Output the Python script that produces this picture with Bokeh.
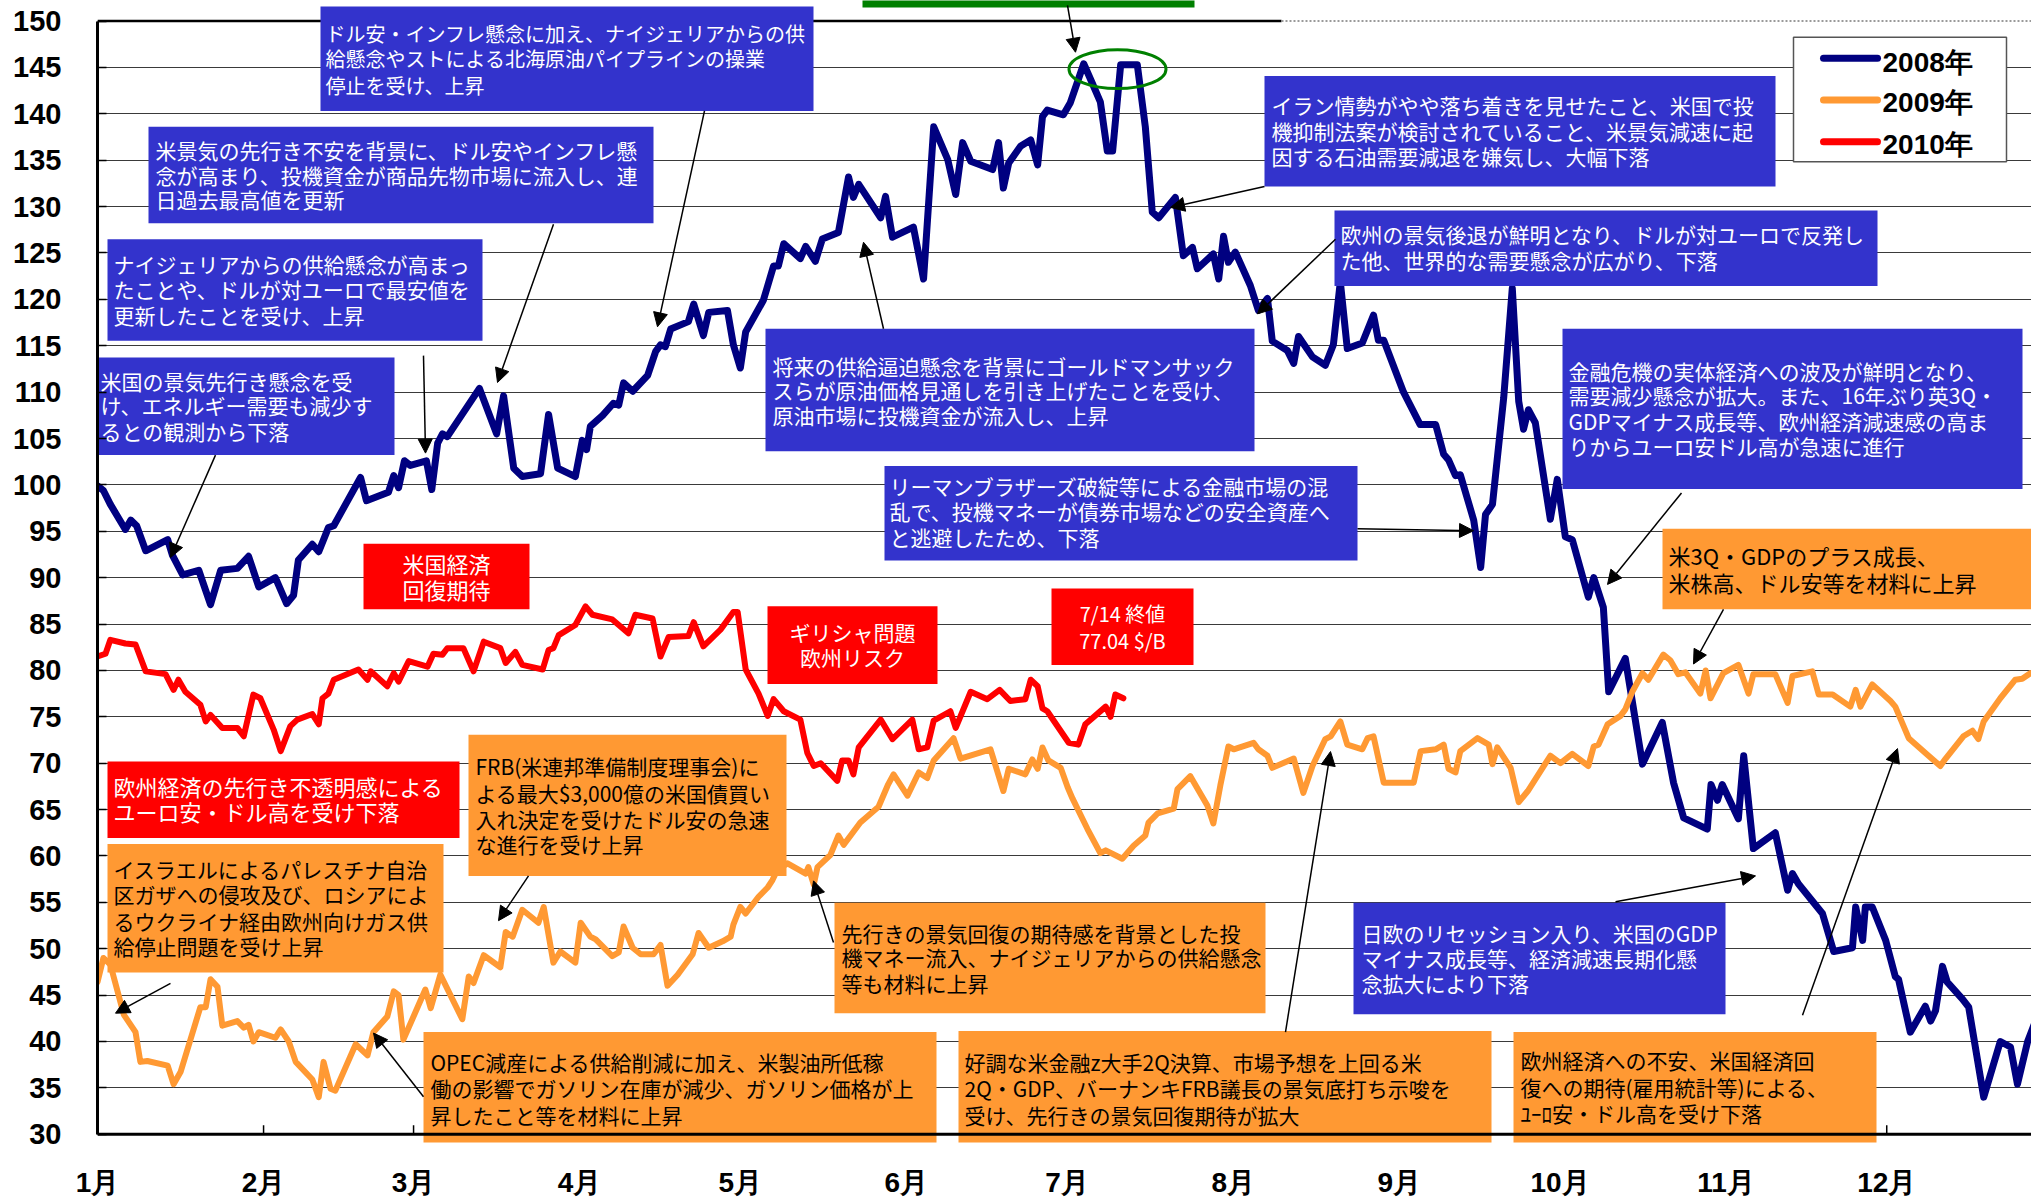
from bokeh.plotting import figure
from bokeh.models import Range1d, FixedTicker, Arrow, NormalHead, Span
from bokeh.embed import file_html
from bokeh.resources import INLINE
from bokeh.core.properties import value

# ---------------- data ----------------
month_labels = ["1月", "2月", "3月", "4月", "5月", "6月", "7月", "8月", "9月", "10月", "11月", "12月"]
month_starts = [0, 31, 59, 90, 120, 151, 181, 212, 243, 273, 304, 334]
y_ticks = [30, 35, 40, 45, 50, 55, 60, 65, 70, 75, 80, 85, 90, 95, 100, 105, 110, 115, 120,
           125, 130, 135, 140, 145, 150]

# (day of year, WTI $/B)
series_2008 = [
    (0, 99.9), (1.1, 99.4), (2.4, 97.9), (5.2, 95.2), (6.2, 96.2), (7.3, 95.6), (9.0, 92.9),
    (13.1, 94.1), (14.0, 92.4), (15.9, 90.3), (18.9, 90.8), (21.1, 87.1), (23.0, 90.8),
    (26.1, 91.0), (28.2, 92.3), (30.1, 89.0), (33.2, 90.0), (35.3, 87.2), (36.6, 88.1),
    (37.5, 91.9), (40.1, 93.6), (41.3, 92.8), (43.1, 95.4), (44.1, 95.6), (49.1, 100.8),
    (50.2, 98.3), (54.3, 99.2), (55.3, 101.0), (56.2, 99.7), (57.3, 102.6), (58.4, 102.1),
    (61.4, 102.6), (62.4, 99.5), (63.5, 104.5), (64.4, 105.5), (65.3, 105.2), (71.3, 110.4),
    (74.5, 105.5), (75.8, 109.6), (77.7, 101.8), (79.3, 100.9), (82.7, 101.2), (84.2, 107.6),
    (85.9, 101.8), (89.2, 100.9), (90.5, 104.8), (91.3, 103.8), (92.0, 106.3), (94.3, 107.5),
    (96.3, 108.8), (97.3, 108.6), (98.2, 111.0), (99.9, 110.1), (102.7, 111.8), (104.2, 114.4),
    (105.1, 115.1), (106.0, 114.9), (107.0, 116.8), (110.3, 117.6), (111.3, 119.5),
    (113.1, 116.1), (114.1, 118.6), (117.6, 118.8), (118.7, 115.1), (120.0, 112.6),
    (121.0, 116.5), (124.3, 119.9), (126.2, 123.6), (127.1, 123.6), (128.1, 126.0),
    (131.2, 124.4), (132.2, 125.7), (134.0, 124.1), (135.3, 126.5), (138.3, 127.2),
    (140.2, 133.2), (141.1, 131.0), (142.1, 132.4), (146.2, 128.8), (147.1, 131.1),
    (148.4, 126.7), (152.3, 127.8), (154.2, 122.2), (156.1, 138.6), (158.7, 135.1),
    (160.2, 131.3), (161.5, 136.9), (163.0, 134.9), (167.1, 134.0), (168.2, 136.9),
    (169.1, 132.0), (170.1, 134.7), (172.3, 136.5), (174.2, 137.2), (175.5, 134.5),
    (176.4, 139.7), (177.3, 140.4), (180.3, 139.9), (181.6, 141.2), (184.1, 145.4),
    (185.7, 143.3), (187.2, 141.3), (188.5, 136.0), (189.5, 136.0), (191.0, 145.3),
    (194.1, 145.3), (195.6, 138.6), (196.9, 129.4), (198.1, 128.8), (201.2, 131.0),
    (202.7, 124.7), (204.4, 125.6), (205.3, 123.3), (208.3, 124.9), (209.3, 122.2),
    (210.2, 126.8), (211.1, 124.0), (212.4, 125.1), (215.2, 121.5), (216.7, 118.8),
    (218.4, 120.1), (219.3, 115.5), (222.1, 114.5), (223.3, 113.1), (224.2, 116.0),
    (226.8, 113.8), (229.2, 112.9), (230.7, 115.1), (232.0, 121.9), (233.3, 114.7),
    (236.1, 115.3), (238.2, 118.3), (239.1, 115.6), (240.1, 115.6), (243.8, 110.0),
    (246.9, 106.5), (249.8, 106.5), (251.3, 103.3), (252.2, 102.7), (253.5, 101.0),
    (254.4, 101.1), (256.9, 96.2), (258.2, 91.1), (259.1, 96.8), (260.4, 97.9),
    (262.5, 109.4), (264.1, 121.2), (265.3, 109.0), (266.2, 106.0), (267.1, 108.1),
    (268.4, 106.7), (271.2, 96.3), (272.5, 100.6), (274.0, 94.4), (275.3, 94.1),
    (278.3, 87.9), (279.3, 90.0), (281.1, 86.8), (282.1, 77.7), (285.2, 81.3), (288.4, 69.9),
    (292.1, 74.4), (294.2, 67.9), (296.1, 64.1), (300.5, 62.9), (301.2, 67.7), (302.4, 66.0),
    (303.3, 67.7), (306.3, 64.0), (307.3, 70.8), (309.1, 60.8), (313.2, 62.5), (315.5, 56.3),
    (316.4, 58.1), (317.5, 57.0), (322.0, 53.8), (324.1, 49.7), (327.6, 50.1), (328.2, 54.5),
    (329.5, 50.9), (330.0, 54.5), (331.3, 54.5), (333.8, 50.9), (335.6, 47.0), (336.2, 46.7),
    (338.4, 41.0), (341.2, 43.8), (342.2, 42.2), (343.1, 43.3), (344.4, 48.1), (345.3, 46.4),
    (348.1, 44.6), (349.3, 43.7), (352.1, 34.0), (355.2, 40.0), (357.1, 39.4), (358.4, 35.4),
    (360.3, 40.0), (361.5, 41.8),
]

series_2009 = [
    (0, 46.4), (1.1, 49.0), (2.4, 48.3), (4.9, 42.9), (7.1, 41.0), (8.0, 37.8), (9.3, 37.9),
    (13.1, 37.4), (14.2, 35.4), (15.5, 36.7), (19.2, 43.7), (20.2, 43.7), (21.1, 46.7),
    (22.4, 45.9), (23.3, 41.7), (26.1, 42.2), (27.3, 41.5), (28.2, 41.8), (29.1, 40.0),
    (30.1, 41.0), (33.2, 40.4), (34.2, 41.3), (35.7, 40.0), (37.0, 37.8), (40.1, 35.9),
    (41.3, 34.0), (42.2, 37.8), (43.5, 34.9), (44.4, 34.7), (48.2, 39.7), (50.4, 38.5),
    (51.5, 41.0), (54.1, 42.7), (55.3, 45.4), (56.2, 45.0), (57.1, 40.2), (61.2, 45.6),
    (62.2, 43.6), (64.0, 47.2), (68.1, 42.4), (69.3, 47.0), (70.2, 46.3), (72.1, 49.3),
    (75.2, 48.0), (76.2, 51.8), (77.5, 51.3), (79.3, 54.2), (82.3, 52.8), (83.3, 54.5),
    (85.1, 48.5), (86.4, 49.7), (89.2, 48.5), (90.2, 52.8), (92.0, 51.3), (93.0, 51.0),
    (96.1, 49.2), (97.3, 49.6), (98.2, 52.4), (99.9, 50.1), (101.4, 49.4), (103.8, 49.4),
    (105.1, 50.4), (106.4, 46.0), (108.3, 47.2), (111.1, 49.4), (112.2, 51.7), (114.1, 50.1),
    (116.7, 50.8), (118.2, 51.3), (118.7, 52.6), (120.0, 54.5), (121.0, 53.8), (123.4, 55.6),
    (125.1, 56.6), (126.0, 57.4), (126.9, 58.5), (128.8, 59.2), (132.2, 58.1), (132.7, 58.8),
    (133.7, 56.9), (134.4, 58.8), (136.8, 60.1), (138.3, 62.2), (139.3, 61.2), (142.4, 63.6),
    (145.8, 65.3), (147.5, 67.6), (148.6, 68.8), (151.2, 66.5), (153.3, 69.0), (154.9, 68.4),
    (156.1, 70.3), (159.8, 72.7), (161.1, 70.5), (166.7, 71.5), (169.1, 67.0), (170.1, 69.4),
    (173.2, 68.8), (174.5, 70.4), (175.5, 69.4), (176.4, 71.7), (177.5, 70.3), (179.8, 69.5),
    (181.1, 67.4), (182.0, 66.2), (184.8, 62.9), (187.2, 60.3), (188.2, 60.6), (191.3, 59.7),
    (193.4, 61.1), (195.6, 62.2), (196.2, 63.6), (197.9, 64.6), (200.9, 65.1), (201.6, 67.2),
    (204.0, 68.6), (207.2, 65.4), (208.3, 63.5), (209.6, 67.6), (211.1, 71.8), (212.1, 71.5),
    (215.8, 72.2), (216.7, 71.5), (218.4, 70.8), (219.3, 69.5), (223.3, 70.5), (225.1, 66.8),
    (226.8, 69.7), (229.2, 72.6), (230.2, 72.9), (232.0, 74.5), (233.3, 72.0), (236.1, 71.5),
    (237.1, 72.7), (238.2, 72.9), (240.1, 67.9), (245.7, 67.9), (247.0, 71.3), (249.8, 71.5),
    (251.3, 72.0), (252.2, 69.4), (253.5, 69.0), (254.4, 71.3), (257.6, 72.7), (259.7, 72.0),
    (260.4, 69.9), (261.3, 71.7), (263.8, 69.5), (265.3, 65.8), (267.0, 67.0), (271.2, 70.8),
    (273.1, 70.0), (275.3, 71.0), (278.3, 69.7), (279.3, 71.8), (280.2, 72.0), (281.9, 74.2),
    (284.3, 75.1), (285.2, 75.8), (286.5, 77.7), (288.4, 79.7), (289.5, 79.0), (292.3, 81.7),
    (293.6, 81.1), (295.1, 79.6), (296.4, 79.8), (299.2, 77.5), (300.2, 80.0), (301.1, 77.0),
    (303.5, 79.7), (306.3, 80.6), (308.2, 77.5), (309.1, 79.6), (313.2, 79.6), (315.5, 76.5),
    (316.4, 79.4), (320.1, 79.9), (321.3, 77.4), (323.9, 77.4), (327.2, 76.1), (328.2, 77.9),
    (329.1, 76.1), (331.3, 78.5), (334.7, 76.7), (335.6, 76.1), (338.1, 72.7), (341.8, 70.8),
    (344.0, 69.7), (345.0, 70.5), (348.3, 72.9), (350.0, 73.5), (351.1, 72.6), (352.1, 74.5),
    (355.2, 77.0), (358.0, 79.0), (359.3, 79.1), (360.8, 79.7), (362.0, 79.9),
]

series_2010 = [
    (0, 81.5), (1.5, 81.8), (2.4, 83.3), (5.2, 82.9), (7.1, 82.8), (9.0, 79.9), (12.7, 79.6),
    (14.2, 77.9), (15.1, 79.0), (16.4, 77.7), (19.2, 76.3), (20.2, 74.5), (21.1, 75.2),
    (23.3, 73.8), (26.1, 73.8), (27.3, 72.9), (29.1, 77.4), (30.4, 77.0), (32.9, 73.6),
    (34.2, 71.3), (36.0, 74.0), (37.3, 74.7), (40.1, 75.3), (41.3, 74.2), (42.0, 77.0),
    (43.1, 77.5), (44.1, 79.0), (48.7, 80.1), (50.4, 79.0), (51.0, 79.9), (54.1, 78.3),
    (55.3, 79.7), (56.2, 78.8), (58.1, 81.0), (61.6, 80.4), (62.7, 81.8), (64.4, 81.7),
    (65.3, 82.4), (68.3, 82.4), (70.2, 79.9), (72.1, 83.1), (75.2, 82.4), (76.2, 80.8),
    (78.0, 82.0), (79.3, 80.6), (83.1, 80.1), (84.2, 82.2), (85.1, 82.4), (86.1, 83.8),
    (89.2, 84.9), (91.1, 86.9), (92.4, 86.0), (96.1, 85.5), (99.1, 84.0), (100.4, 86.0),
    (103.6, 85.6), (105.1, 81.5), (106.6, 83.6), (110.3, 83.7), (111.3, 85.2), (113.1, 82.6),
    (116.3, 84.4), (118.7, 86.3), (119.5, 86.3), (121.0, 80.1), (123.4, 77.5), (125.1, 75.1),
    (126.2, 76.9), (128.1, 75.6), (131.2, 74.7), (132.5, 71.1), (133.7, 69.7), (135.0, 70.0),
    (138.1, 68.1), (139.0, 70.3), (140.2, 70.3), (141.1, 68.8), (142.1, 71.7), (146.2, 74.7),
    (148.4, 72.6), (152.1, 74.7), (153.3, 71.5), (154.9, 71.7), (156.1, 74.6), (159.2, 75.6),
    (160.2, 73.8), (163.0, 77.7), (166.1, 76.9), (168.4, 77.9), (170.4, 76.7), (173.2, 76.9),
    (174.2, 79.0), (175.5, 78.3), (176.4, 75.9), (177.3, 75.6), (181.3, 72.2), (183.1, 72.0),
    (184.4, 74.2), (188.2, 76.1), (189.1, 75.0), (190.0, 77.4), (191.5, 77.0),
]

# ---------------- layout (pixel geometry of the reference) ----------------
W, H = 2031, 1200
PX0, PXD = 97.0, 5.357      # x pixel of day 0, pixels per day
PY150, PYU = 20.7, 9.325    # y pixel of 150, pixels per $
BOT = 1148


def dx(px):
    return (px - PX0) / PXD


def dy(py):
    return 150 - (py - PY150) / PYU


NAVY, ORANGE, RED, BLUE, GREEN = "#000080", "#FF9933", "#FF0000", "#3333CC", "#008000"
JP = value("Noto Sans CJK JP")

p = figure(width=W, height=H, x_range=Range1d(dx(PX0), dx(W)), y_range=Range1d(dy(BOT), dy(0)),
           output_backend="svg", toolbar_location=None,
           min_border_left=97, min_border_right=0, min_border_top=0, min_border_bottom=H - BOT)
p.outline_line_color = None
p.background_fill_color = "white"
p.border_fill_color = "white"
p.xgrid.visible = False
p.ygrid.ticker = FixedTicker(ticks=[t for t in y_ticks if 30 < t < 150])
p.ygrid.grid_line_color = "#3a3a3a"
p.ygrid.grid_line_width = 1

ya = p.yaxis[0]
ya.ticker = FixedTicker(ticks=y_ticks)
ya.bounds = (30, 150)
ya.axis_line_width = 3
ya.axis_line_color = "black"
ya.major_tick_in = 9
ya.major_tick_out = 0
ya.major_tick_line_width = 1.5
ya.minor_tick_line_color = None
ya.major_label_text_font = "Liberation Sans"
ya.major_label_text_font_style = "bold"
ya.major_label_text_font_size = "29px"
ya.major_label_text_color = "black"
ya.major_label_standoff = 36

xa = p.xaxis[0]
xa.ticker = FixedTicker(ticks=month_starts)
xa.major_label_overrides = {m: l for m, l in zip(month_starts, month_labels)}
xa.axis_line_color = None
xa.major_tick_line_color = None
xa.minor_tick_line_color = None
xa.major_label_text_font = "Liberation Sans"
xa.major_label_text_font_style = "bold"
xa.major_label_text_font_size = "28px"
xa.major_label_text_color = "black"
xa.major_label_standoff = 18

# axis line at 30, top border at 150, month tick marks
p.add_layout(Span(location=30, dimension="width", line_color="black", line_width=3))
p.segment(x0=[dx(97)], y0=[150], x1=[dx(1281)], y1=[150], line_color="black", line_width=2.5)
p.segment(x0=[dx(1281)], y0=[150], x1=[dx(W)], y1=[150], line_color="#9a9a9a", line_width=2,
          line_dash="2 2")
p.segment(x0=month_starts, y0=[30] * 12, x1=month_starts, y1=[30 + 9 / PYU] * 12,
          line_color="black", line_width=1.5)

# ---------------- series ----------------
for ser, col, lw in ((series_2008, NAVY, 7), (series_2009, ORANGE, 6), (series_2010, RED, 6)):
    p.line([d for d, v in ser], [v for d, v in ser], line_color=col, line_width=lw,
           line_join="round", line_cap="round")

# ---------------- annotation boxes ----------------
# (left, top, right, bottom, fill, text colour, font px, align, text x, [(text, line centre y)])
boxes = [
    (320, 6, 813, 111, BLUE, "white", 20, "left", 325,
     [("ドル安・インフレ懸念に加え、ナイジェリアからの供", 33),
      ("給懸念やストによる北海原油パイプラインの操業", 58), ("停止を受け、上昇", 85)]),
    (148, 127, 653, 224, BLUE, "white", 21, "left", 155,
     [("米景気の先行き不安を背景に、ドル安やインフレ懸", 150),
      ("念が高まり、投機資金が商品先物市場に流入し、連", 175), ("日過去最高値を更新", 200)]),
    (107, 240, 482, 342, BLUE, "white", 21, "left", 113,
     [("ナイジェリアからの供給懸念が高まっ", 265), ("たことや、ドルが対ユーロで最安値を", 290),
      ("更新したことを受け、上昇", 316)]),
    (94, 359, 394, 457, BLUE, "white", 21, "left", 100,
     [("米国の景気先行き懸念を受", 382), ("け、エネルギー需要も減少す", 407),
      ("るとの観測から下落", 433)]),
    (765, 330, 1254, 453, BLUE, "white", 21, "left", 772,
     [("将来の供給逼迫懸念を背景にゴールドマンサック", 367),
      ("スらが原油価格見通しを引き上げたことを受け、", 392),
      ("原油市場に投機資金が流入し、上昇", 417)]),
    (1264, 76, 1775, 187, BLUE, "white", 21, "left", 1271,
     [("イラン情勢がやや落ち着きを見せたこと、米国で投", 105),
      ("機抑制法案が検討されていること、米景気減速に起", 131),
      ("因する石油需要減退を嫌気し、大幅下落", 156)]),
    (1334, 211, 1877, 287, BLUE, "white", 21, "left", 1340,
     [("欧州の景気後退が鮮明となり、ドルが対ユーロで反発し", 235),
      ("た他、世界的な需要懸念が広がり、下落", 261)]),
    (1562, 330, 2022, 491, BLUE, "white", 21, "left", 1568,
     [("金融危機の実体経済への波及が鮮明となり、", 372),
      ("需要減少懸念が拡大。また、16年ぶり英3Q・", 397),
      ("GDPマイナス成長等、欧州経済減速感の高ま", 423),
      ("りからユーロ安ドル高が急速に進行", 448)]),
    (884, 468, 1357, 563, BLUE, "white", 21, "left", 889,
     [("リーマンブラザーズ破綻等による金融市場の混", 488),
      ("乱で、投機マネーが債券市場などの安全資産へ", 513), ("と逃避したため、下落", 539)]),
    (1353, 907, 1725, 1019, BLUE, "white", 21, "left", 1361,
     [("日欧のリセッション入り、米国のGDP", 937), ("マイナス成長等、経済減速長期化懸", 963),
      ("念拡大により下落", 988)]),
    (363, 546, 529, 612, RED, "white", 22, "center", 446,
     [("米国経済", 565), ("回復期待", 592)]),
    (767, 609, 937, 687, RED, "white", 21, "center", 852,
     [("ギリシャ問題", 635), ("欧州リスク", 660)]),
    (1051, 591, 1193, 668, RED, "white", 20, "center", 1122,
     [("7/14 終値", 616), ("77.04 $/B", 643)]),
    (107, 765, 459, 842, RED, "white", 22, "left", 113,
     [("欧州経済の先行き不透明感による", 790), ("ユーロ安・ドル高を受け下落", 815)]),
    (107, 848, 443, 977, ORANGE, "black", 21, "left", 113,
     [("イスラエルによるパレスチナ自治", 873), ("区ガザへの侵攻及び、ロシアによ", 898),
      ("るウクライナ経由欧州向けガス供", 925), ("給停止問題を受け上昇", 950)]),
    (468, 738, 786, 880, ORANGE, "black", 21, "left", 475,
     [("FRB(米連邦準備制度理事会)に", 770), ("よる最大$3,000億の米国債買い", 797),
      ("入れ決定を受けたドル安の急速", 823), ("な進行を受け上昇", 848)]),
    (423, 1037, 936, 1149, ORANGE, "black", 21, "left", 430,
     [("OPEC減産による供給削減に加え、米製油所低稼", 1067),
      ("働の影響でガソリン在庫が減少、ガソリン価格が上", 1093),
      ("昇したこと等を材料に上昇", 1120)]),
    (834, 907, 1265, 1018, ORANGE, "black", 21, "left", 841,
     [("先行きの景気回復の期待感を背景とした投", 937),
      ("機マネー流入、ナイジェリアからの供給懸念", 962), ("等も材料に上昇", 988)]),
    (958, 1036, 1491, 1149, ORANGE, "black", 21, "left", 964,
     [("好調な米金融z大手2Q決算、市場予想を上回る米", 1067),
      ("2Q・GDP、バーナンキFRB議長の景気底打ち示唆を", 1093),
      ("受け、先行きの景気回復期待が拡大", 1120)]),
    (1662, 531, 2040, 612, ORANGE, "black", 22, "left", 1668,
     [("米3Q・GDPのプラス成長、", 557), ("米株高、ドル安等を材料に上昇", 585)]),
    (1513, 1037, 1876, 1149, ORANGE, "black", 21, "left", 1520,
     [("欧州経済への不安、米国経済回", 1065), ("復への期待(雇用統計等)による、", 1092),
      ("ﾕｰﾛ安・ドル高を受け下落", 1118)]),
]

for (l, t, r, b, fill, tcol, fs, align, tx, lines) in boxes:
    p.quad(left=[dx(l)], right=[dx(r)], top=[dy(t)], bottom=[dy(b)], fill_color=fill,
           line_color=None)
    p.text(x=[dx(tx)] * len(lines), y=[dy(cy) for _, cy in lines], text=[s for s, _ in lines],
           text_font=JP, text_font_size=f"{fs}px", text_color=tcol, text_align=align,
           text_baseline="middle")

# green highlight: top box and ellipse around the peak
p.quad(left=[dx(862)], right=[dx(1194)], top=[dy(-5)], bottom=[dy(7)], fill_color=GREEN,
       line_color=None)
p.ellipse(x=[dx(1117)], y=[dy(69)], width=97 / PXD, height=39 / PYU, fill_color=None,
          line_color=GREEN, line_width=3)

# ---------------- arrows ----------------
arrows = [
    ((215, 457), (170, 560)), ((423, 357), (425, 455)), ((553, 225), (497, 384)),
    ((704, 111), (657, 328)), ((883, 330), (863, 243)), ((1067, 5), (1075, 52)),
    ((1264, 187), (1170, 208)), ((1335, 240), (1257, 315)), ((1357, 531), (1473, 533)),
    ((1681, 495), (1607, 587)), ((1723, 612), (1693, 667)), ((1802, 1020), (1897, 752)),
    ((1615, 906), (1755, 880)), ((1285, 1037), (1330, 755)), ((833, 947), (813, 885)),
    ((423, 1102), (373, 1038)), ((170, 988), (115, 1018)), ((528, 880), (498, 925)),
]
for (x0, y0), (x1, y1) in arrows:
    p.add_layout(Arrow(end=NormalHead(size=14, fill_color="black", line_color="black",
                                      line_width=1),
                       x_start=dx(x0), y_start=dy(y0), x_end=dx(x1), y_end=dy(y1),
                       line_color="black", line_width=1.5))

# ---------------- legend ----------------
p.quad(left=[dx(1793)], right=[dx(2006)], top=[dy(37)], bottom=[dy(162)], fill_color="white",
       line_color="#555555", line_width=1.5)
leg_names = ["2008年", "2009年", "2010年"]
leg_cols = [NAVY, ORANGE, RED]
leg_line_y = [58, 100, 142]
leg_text_y = [62, 103, 145]
for name, col, ly, ty in zip(leg_names, leg_cols, leg_line_y, leg_text_y):
    p.segment(x0=[dx(1823)], y0=[dy(ly)], x1=[dx(1877)], y1=[dy(ly)], line_color=col,
              line_width=7, line_cap="round")
    p.text(x=[dx(1882)], y=[dy(ty)], text=[name], text_font=value("Liberation Sans"),
           text_font_style="bold", text_font_size="28px", text_color="black",
           text_baseline="middle", text_align="left")

open("out.html", "w", encoding="utf-8").write(file_html(p, INLINE))
